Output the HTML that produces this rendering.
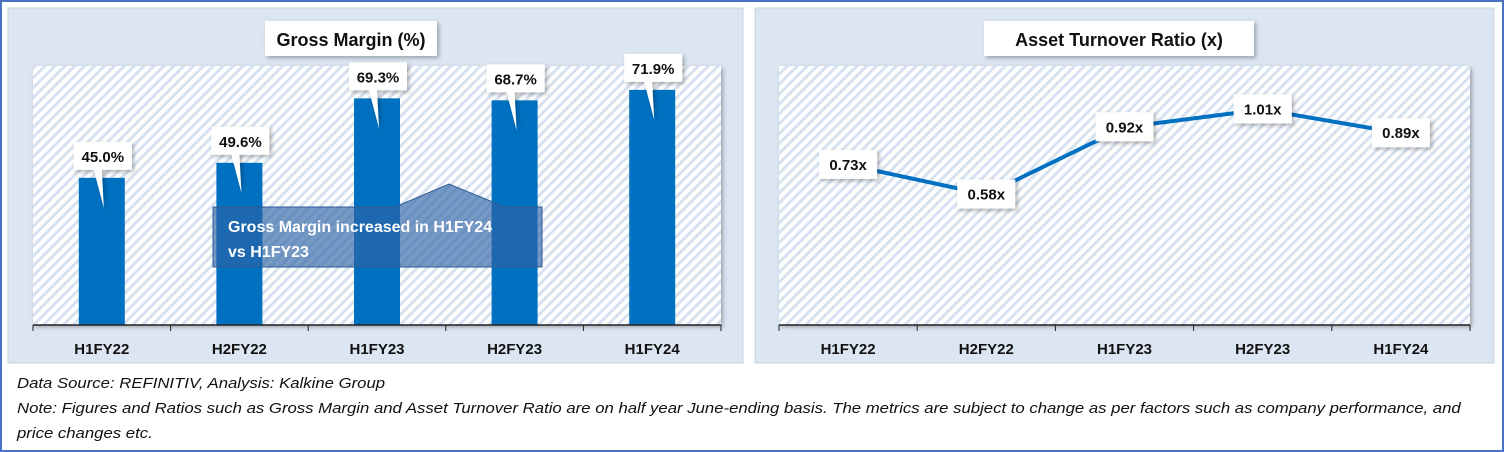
<!DOCTYPE html>
<html><head><meta charset="utf-8"><style>
html,body{margin:0;padding:0;background:#fff}
body{width:1504px;height:452px;overflow:hidden;position:relative;font-family:"Liberation Sans",sans-serif}
#frame{position:absolute;left:0;top:0;width:1500px;height:448px;border:2px solid #4a72c4}
.foot{position:absolute;left:17px;font-style:italic;font-size:15px;color:#111;white-space:nowrap;transform-origin:0 0;transform:scaleX(1.115)}
</style></head><body>
<div id="frame"></div>
<svg id="chart" width="1504" height="452" style="position:absolute;left:0;top:0">
<defs>
<pattern id="hatch" width="7" height="7" patternUnits="userSpaceOnUse" patternTransform="rotate(45)">
<rect width="7" height="7" fill="#fff"/><rect width="3" height="7" fill="#d6e2ef"/></pattern>
<filter id="sh" x="-20%" y="-20%" width="140%" height="140%"><feDropShadow dx="2" dy="2" stdDeviation="2" flood-color="#000" flood-opacity="0.3"/></filter>
</defs>
<g id="left">
<rect x="8" y="8" width="735" height="355" fill="#dce6f2" stroke="#c9d3de"/>
<rect x="33" y="66" width="688" height="259" fill="url(#hatch)" filter="url(#sh)"/>
<rect x="265" y="21" width="172" height="35" fill="#fff" filter="url(#sh)"/>
<text x="351" y="46" text-anchor="middle" font-size="18" font-weight="bold" fill="#111">Gross Margin (%)</text>
<g id="bars"></g>
<line x1="33" y1="325" x2="721" y2="325" stroke="#222" stroke-width="1.5"/>
<g id="xl1"></g>
<path d="M213,207 L395,207 L449,184 L505,207 L542,207 L542,267 L213,267 Z" fill="#2e64a6" fill-opacity="0.65" stroke="#2e5a94"/>
<text x="228" y="232" font-size="16" font-weight="bold" fill="#fff">Gross Margin increased in H1FY24</text>
<text x="228" y="257" font-size="16" font-weight="bold" fill="#fff">vs H1FY23</text>
</g>
<g id="right">
<rect x="755" y="8" width="739" height="355" fill="#dce6f2" stroke="#c9d3de"/>
<rect x="779" y="66" width="691" height="259" fill="url(#hatch)" filter="url(#sh)"/>
<rect x="984" y="21" width="270" height="35" fill="#fff" filter="url(#sh)"/>
<text x="1119" y="46" text-anchor="middle" font-size="18" font-weight="bold" fill="#111">Asset Turnover Ratio (x)</text>
<line x1="779" y1="325" x2="1470" y2="325" stroke="#222" stroke-width="1.5"/>
<g id="line"></g>
<g id="xl2"></g>
</g>
</svg>
<div class="foot" style="top:375px">Data Source: REFINITIV, Analysis: Kalkine Group</div>
<div class="foot" style="top:400px">Note: Figures and Ratios such as Gross Margin and Asset Turnover Ratio are on half year June-ending basis. The metrics are subject to change as per factors such as company performance, and</div>
<div class="foot" style="top:425px">price changes etc.</div>
<script>
const categories = ["H1FY22","H2FY22","H1FY23","H2FY23","H1FY24"];
const grossMargin = [45.0,49.6,69.3,68.7,71.9];
const grossLabels = ["45.0%","49.6%","69.3%","68.7%","71.9%"];
const assetTurnover = [0.73,0.58,0.92,1.01,0.89];
const assetLabels = ["0.73x","0.58x","0.92x","1.01x","0.89x"];
const NS="http://www.w3.org/2000/svg";
function mk(tag,attrs,parent){const e=document.createElementNS(NS,tag);for(const k in attrs)e.setAttribute(k,attrs[k]);parent.appendChild(e);return e;}
function xBand(i,x0,x1){const w=(x1-x0)/categories.length;return x0+w*(i+0.5);}
function yGM(v){return 325-v*(259/79.2);}
function yAT(v){return 325-(v+0.08)*(259/1.31);}
const bars=document.getElementById('bars'),xl1=document.getElementById('xl1'),xl2=document.getElementById('xl2'),lg=document.getElementById('line');
for(let i=0;i<=categories.length;i++){
 const t1=33+i*688/5;const a=mk('line',{x1:t1,y1:325,x2:t1,y2:331,stroke:'#222'},xl1);
 
 
 const t2=779+i*691/5;const b=mk('line',{x1:t2,y1:325,x2:t2,y2:331,stroke:'#222'},xl2);
 
 
}
categories.forEach((c,i)=>{
 const cx=xBand(i,33,721),y=yGM(grossMargin[i]);
 const r=mk('rect',{x:cx-23,y:y,width:46,height:325-y,fill:'#0070c0'},bars);
 
 
 const lx=cx-28,ly=y-36;
 const p=mk('path',{d:`M${lx},${ly} h58 v28 h-30 L${cx+2},${y+30} L${lx+20},${ly+28} h-20 Z`,fill:'#fff',filter:'url(#sh)'},bars);
 
 
 const t=mk('text',{x:lx+29,y:ly+20,'text-anchor':'middle','font-size':'15','font-weight':'bold',fill:'#111'},bars);
 t.textContent=grossLabels[i];
 
 
 const xt=mk('text',{x:cx,y:354,'text-anchor':'middle','font-size':'15','font-weight':'bold',fill:'#111'},xl1);
 xt.textContent=c;
 
 
 const xt2=mk('text',{x:xBand(i,779,1470),y:354,'text-anchor':'middle','font-size':'15','font-weight':'bold',fill:'#111'},xl2);
 xt2.textContent=c;
 
 
});
const pts=assetTurnover.map((v,i)=>[xBand(i,779,1470),yAT(v)]);
const pl=mk('polyline',{points:pts.map(p=>p.join(',')).join(' '),fill:'none',stroke:'#0070c0','stroke-width':4,'stroke-linejoin':'round'},lg);


pts.forEach((p,i)=>{
 const b=mk('rect',{x:p[0]-29,y:p[1]-15,width:58,height:29,fill:'#fff',filter:'url(#sh)'},lg);
 
 
 const t=mk('text',{x:p[0],y:p[1]+5,'text-anchor':'middle','font-size':'15','font-weight':'bold',fill:'#111'},lg);
 t.textContent=assetLabels[i];
 
 
});
</script>
</body></html>
